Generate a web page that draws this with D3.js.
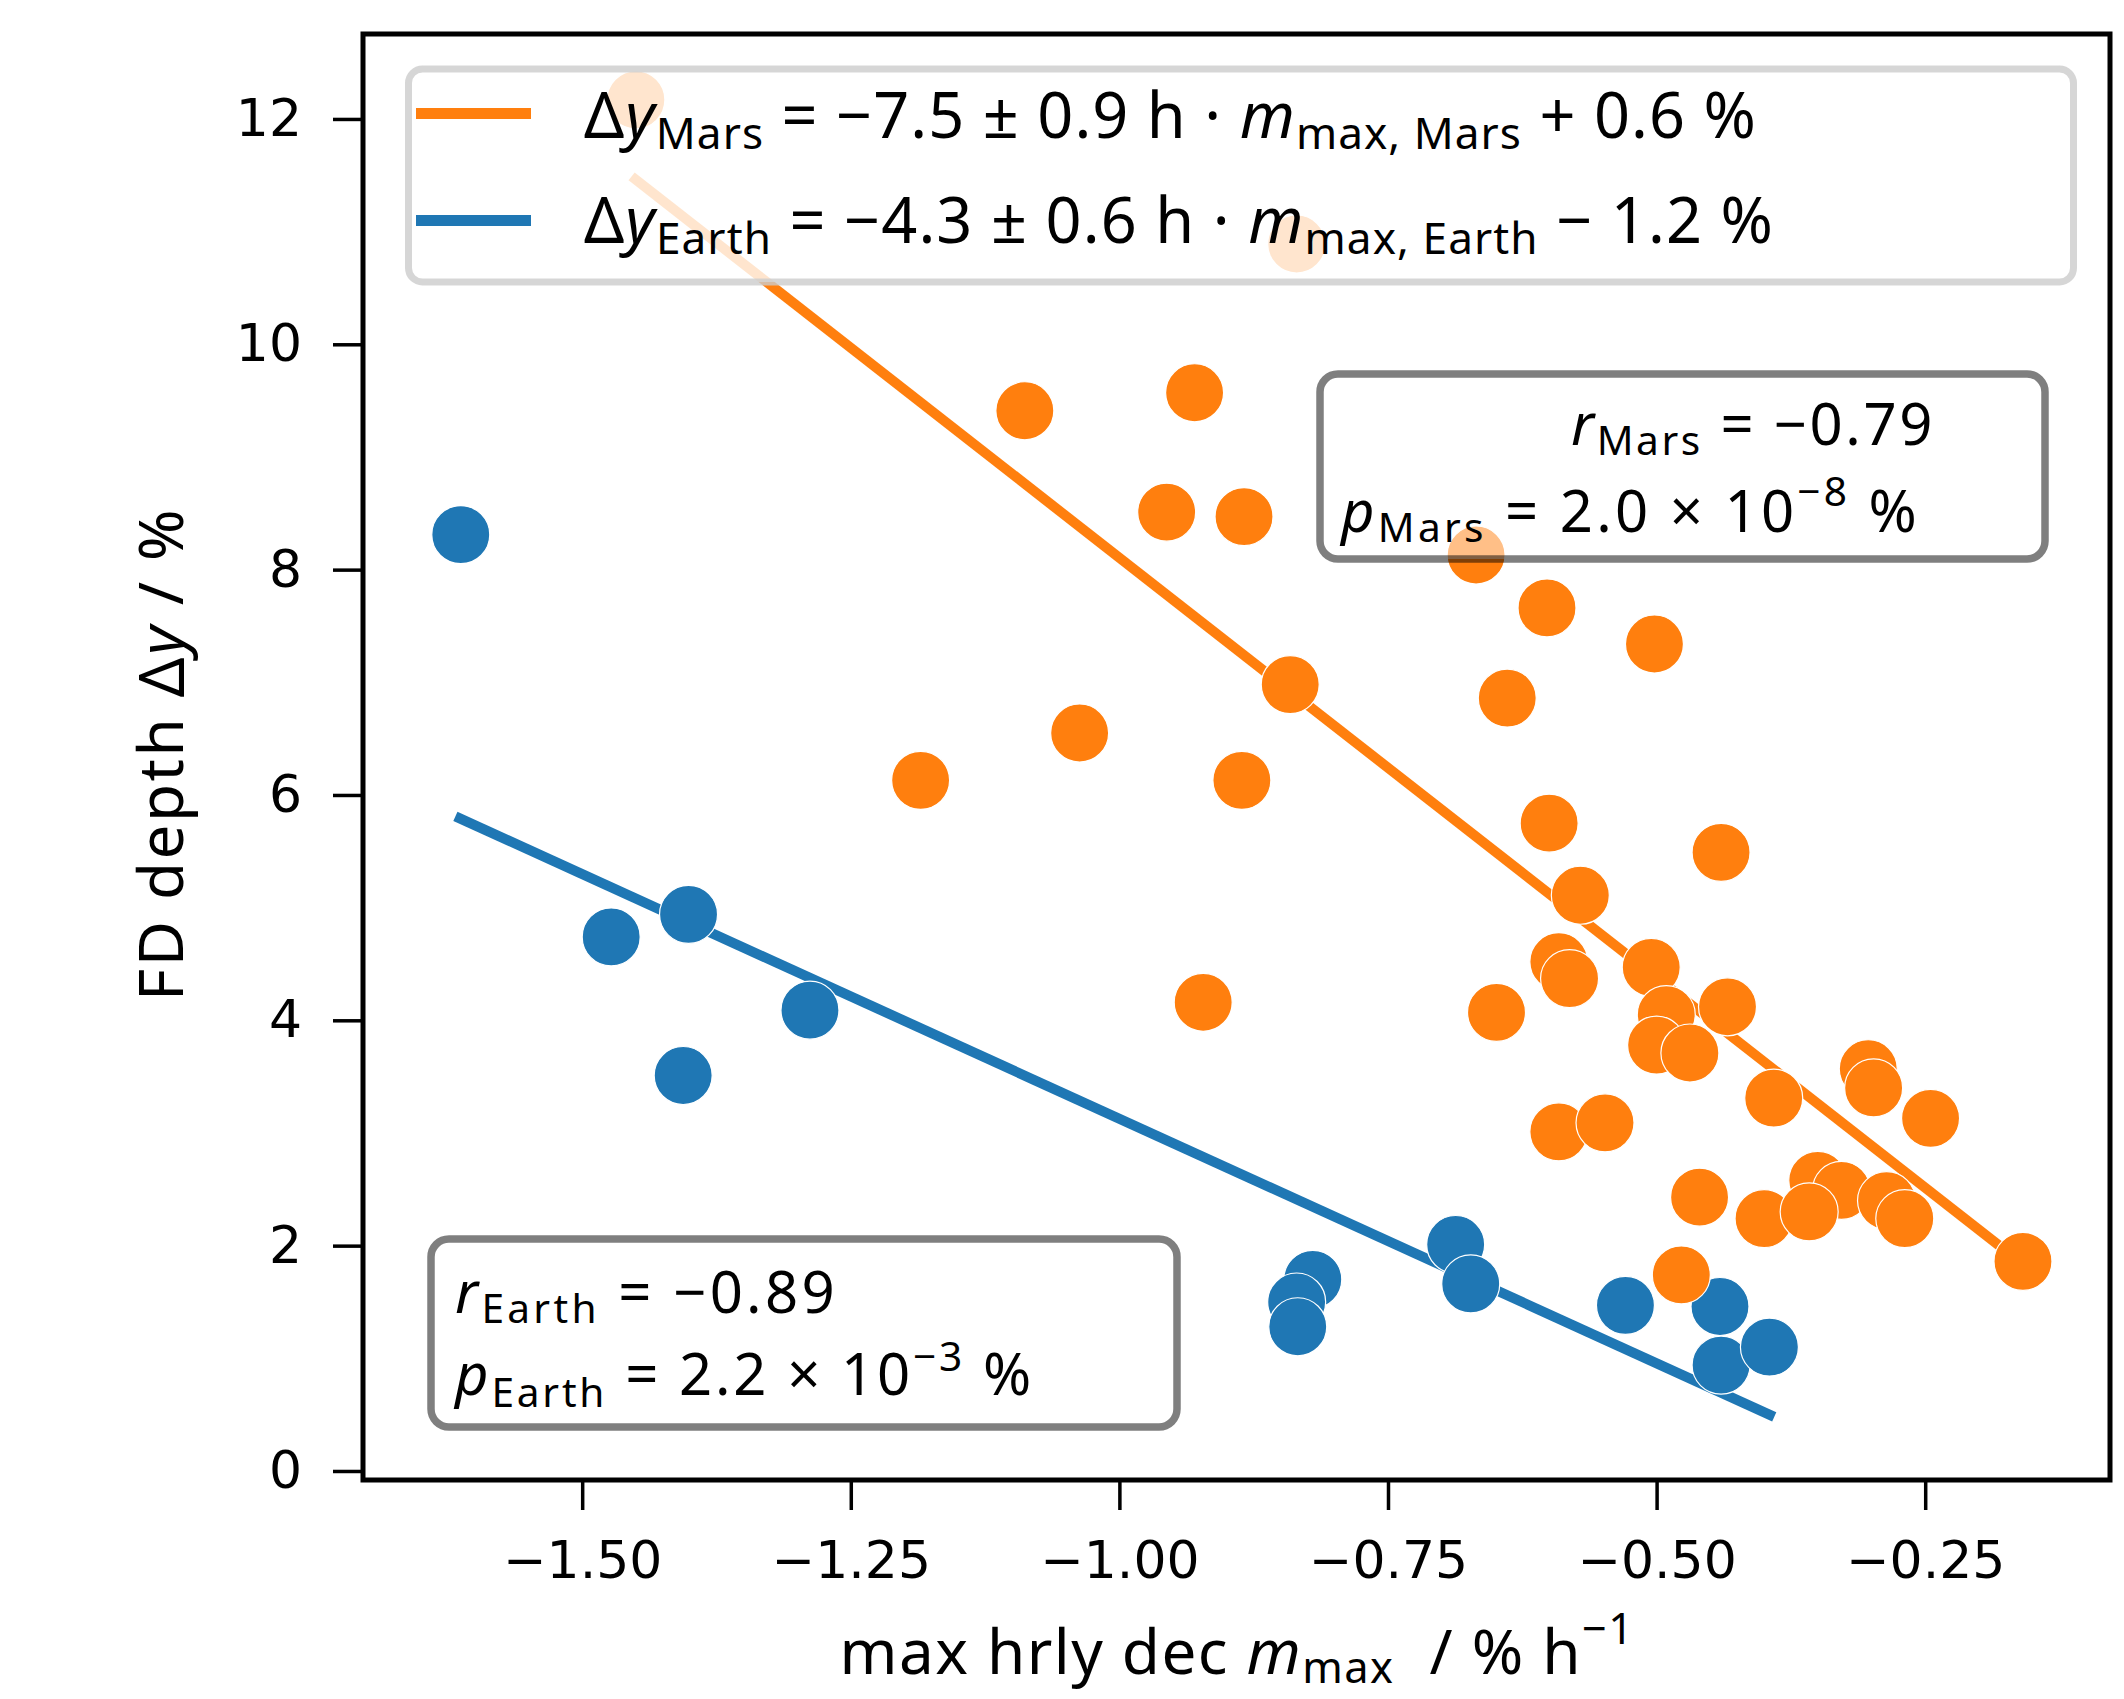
<!DOCTYPE html>
<html>
<head>
<meta charset="utf-8">
<script src="https://cdn.jsdelivr.net/npm/d3@7"></script>
<style>
  body { margin: 0; background: #fff; }
  text { white-space: pre; }
</style>
</head>
<body>
<svg id="chart" width="2124" height="1699"></svg>
<script>
// values: [m_max (%/h), FD depth (%)]
const marsPoints = [
  [-1.450, 12.17], [-0.835, 10.89], [-1.088, 9.41], [-0.930, 9.57],
  [-0.956, 8.51], [-0.884, 8.47], [-0.668, 8.13], [-0.602, 7.66],
  [-0.502, 7.34], [-0.841, 6.98], [-0.639, 6.86], [-1.037, 6.55],
  [-1.185, 6.13], [-0.886, 6.13], [-0.600, 5.75], [-0.440, 5.49],
  [-0.571, 5.11], [-0.591, 4.52], [-0.581, 4.37], [-0.505, 4.47],
  [-0.922, 4.16], [-0.649, 4.07], [-0.434, 4.12], [-0.491, 4.05],
  [-0.500, 3.78], [-0.469, 3.71], [-0.391, 3.31], [-0.303, 3.57],
  [-0.298, 3.40], [-0.245, 3.13], [-0.591, 3.01], [-0.548, 3.09],
  [-0.460, 2.43], [-0.400, 2.24], [-0.350, 2.58], [-0.328, 2.49],
  [-0.358, 2.30], [-0.286, 2.40], [-0.269, 2.24], [-0.477, 1.74],
  [-0.159, 1.86]
];
const earthPoints = [
  [-1.613, 8.31], [-1.473, 4.74], [-1.401, 4.94], [-1.288, 4.09],
  [-1.406, 3.51], [-0.820, 1.70], [-0.835, 1.50], [-0.834, 1.28],
  [-0.687, 2.01], [-0.673, 1.66], [-0.529, 1.47], [-0.441, 1.46],
  [-0.440, 0.94], [-0.395, 1.10]
];
// fitted lines, end points as drawn
const marsFit = [[-1.454, 11.49], [-0.161, 1.85]];
const earthFit = [[-1.618, 5.81], [-0.3905, 0.48]];

const xTicks = [-1.5, -1.25, -1.0, -0.75, -0.5, -0.25];
const yTicks = [0, 2, 4, 6, 8, 10, 12];

const MARS = '#ff7f0e';
const EARTH = '#1f77b4';
const FONT = '"Noto Sans", "Open Sans", sans-serif';
const TICKFONT = '"DejaVu Sans", sans-serif';

const svg = d3.select('#chart');
const plot = { left: 363, right: 2110, top: 34, bottom: 1480 };

const x = d3.scaleLinear().domain([-1.704, -0.078]).range([plot.left, plot.right]);
const y = d3.scaleLinear().domain([-0.08, 12.754]).range([plot.bottom, plot.top]);

// axes
const yAxis = svg.append('g')
  .attr('transform', `translate(${plot.left},0)`)
  .call(d3.axisLeft(y).tickValues(yTicks).tickSize(30).tickPadding(31).tickFormat(d3.format('d')));
const xAxis = svg.append('g')
  .attr('transform', `translate(0,${plot.bottom})`)
  .call(d3.axisBottom(x).tickValues(xTicks).tickSize(30).tickFormat(d3.format('.2f')));

[yAxis, xAxis].forEach(a => {
  a.select('.domain').remove();
  a.selectAll('.tick line').attr('stroke', '#000').attr('stroke-width', 3.5);
  a.selectAll('.tick text')
    .attr('fill', '#000')
    .style('font-family', TICKFONT)
    .style('font-size', '52px');
});
xAxis.selectAll('.tick text').attr('y', 98).attr('dy', 0);

// fit lines
const line = d3.line().x(d => x(d[0])).y(d => y(d[1]));
const data = svg.append('g');
data.append('path').datum(earthFit).attr('d', line)
  .attr('fill', 'none').attr('stroke', EARTH).attr('stroke-width', 10);
data.append('path').datum(marsFit).attr('d', line)
  .attr('fill', 'none').attr('stroke', MARS).attr('stroke-width', 10);

// scatter
data.selectAll('.earth').data(earthPoints).enter().append('circle')
  .attr('class', 'earth')
  .attr('cx', d => x(d[0])).attr('cy', d => y(d[1])).attr('r', 29)
  .attr('fill', EARTH).attr('stroke', '#fff').attr('stroke-width', 1.2);
data.selectAll('.mars').data(marsPoints).enter().append('circle')
  .attr('class', 'mars')
  .attr('cx', d => x(d[0])).attr('cy', d => y(d[1])).attr('r', 29)
  .attr('fill', MARS).attr('stroke', '#fff').attr('stroke-width', 1.2);

// frame
svg.append('rect')
  .attr('x', plot.left).attr('y', plot.top)
  .attr('width', plot.right - plot.left).attr('height', plot.bottom - plot.top)
  .attr('fill', 'none').attr('stroke', '#000').attr('stroke-width', 5);

/**
 * Writes a mathtext-like label made of pieces (italic, sub, sup)
 * and stretches its spacing so it covers the given width
 */
function mathText(parent, px, py, parts, size, opt) {
  const t = parent.append('text')
    .attr('x', px).attr('y', py)
    .attr('fill', '#000')
    .style('font-family', FONT)
    .style('font-size', size + 'px');
  let shift = 0;
  parts.forEach(p => {
    const target = p.sub ? opt.sub : (p.sup ? -opt.sup : 0);
    const ts = t.append('tspan').text(p.t).attr('dy', target - shift);
    shift = target;
    if (p.sub || p.sup) ts.style('font-size', (size * 0.7) + 'px');
    if (p.it) ts.style('font-style', 'italic');
  });
  if (opt.anchor) t.attr('text-anchor', opt.anchor);
  if (opt.width) {
    const natural = t.node().getComputedTextLength();
    const n = parts.reduce((s, p) => s + p.t.length, 0);
    t.style('letter-spacing', ((opt.width - natural) / n) + 'px');
  }
  return t;
}

// legend
const legend = svg.append('g');
legend.append('rect')
  .attr('x', 408.5).attr('y', 69).attr('width', 1665).attr('height', 213).attr('rx', 14)
  .attr('fill', '#fff').attr('fill-opacity', 0.8)
  .attr('stroke', '#ccc').attr('stroke-opacity', 0.8).attr('stroke-width', 7);
legend.append('line').attr('x1', 416).attr('x2', 531).attr('y1', 113.5).attr('y2', 113.5)
  .attr('stroke', MARS).attr('stroke-width', 11);
legend.append('line').attr('x1', 416).attr('x2', 531).attr('y1', 220.5).attr('y2', 220.5)
  .attr('stroke', EARTH).attr('stroke-width', 11);
mathText(legend, 584, 138, [
  { t: 'Δ' }, { t: 'y', it: 1 }, { t: 'Mars', sub: 1 }, { t: ' = −7.5 ± 0.9 h · ' },
  { t: 'm', it: 1 }, { t: 'max, Mars', sub: 1 }, { t: ' + 0.6 %' }
], 63, { sub: 11, width: 1173 });
mathText(legend, 584, 243, [
  { t: 'Δ' }, { t: 'y', it: 1 }, { t: 'Earth', sub: 1 }, { t: ' = −4.3 ± 0.6 h · ' },
  { t: 'm', it: 1 }, { t: 'max, Earth', sub: 1 }, { t: ' − 1.2 %' }
], 63, { sub: 11, width: 1190 });

// correlation boxes
function statBox(bx, by, bw, bh) {
  const g = svg.append('g');
  g.append('rect').attr('x', bx).attr('y', by).attr('width', bw).attr('height', bh).attr('rx', 18)
    .attr('fill', '#fff').attr('fill-opacity', 0.5)
    .attr('stroke', '#000').attr('stroke-opacity', 0.5).attr('stroke-width', 7.5);
  return g;
}
const marsBox = statBox(1320, 374, 725, 185);
mathText(marsBox, 1571, 445, [
  { t: 'r', it: 1 }, { t: 'Mars', sub: 1 }, { t: ' = −0.79' }
], 58, { sub: 10, width: 364 });
mathText(marsBox, 1341, 532, [
  { t: 'p', it: 1 }, { t: 'Mars', sub: 1 }, { t: ' = 2.0 × 10' }, { t: '−8', sup: 1 }, { t: ' %' }
], 58, { sub: 10, sup: 26, width: 579 });

const earthBox = statBox(431, 1239, 746, 188);
mathText(earthBox, 455, 1313, [
  { t: 'r', it: 1 }, { t: 'Earth', sub: 1 }, { t: ' = −0.89' }
], 58, { sub: 10, width: 383 });
mathText(earthBox, 455, 1395, [
  { t: 'p', it: 1 }, { t: 'Earth', sub: 1 }, { t: ' = 2.2 × 10' }, { t: '−3', sup: 1 }, { t: ' %' }
], 58, { sub: 12, sup: 24, width: 579 });

// axis titles
mathText(svg.append('g').attr('transform', 'translate(183,754) rotate(-90)'), 0, 0, [
  { t: 'FD depth ' }, { t: 'Δ' }, { t: 'y', it: 1 }, { t: ' / %' }
], 62, { anchor: 'middle', width: 494 });
mathText(svg, 1237, 1674, [
  { t: 'max hrly dec ' }, { t: 'm', it: 1 }, { t: 'max', sub: 1 }, { t: '  / % h' }, { t: '−1', sup: 1 }
], 62, { sub: 9, sup: 30, anchor: 'middle', width: 795 });
</script>
</body>
</html>
